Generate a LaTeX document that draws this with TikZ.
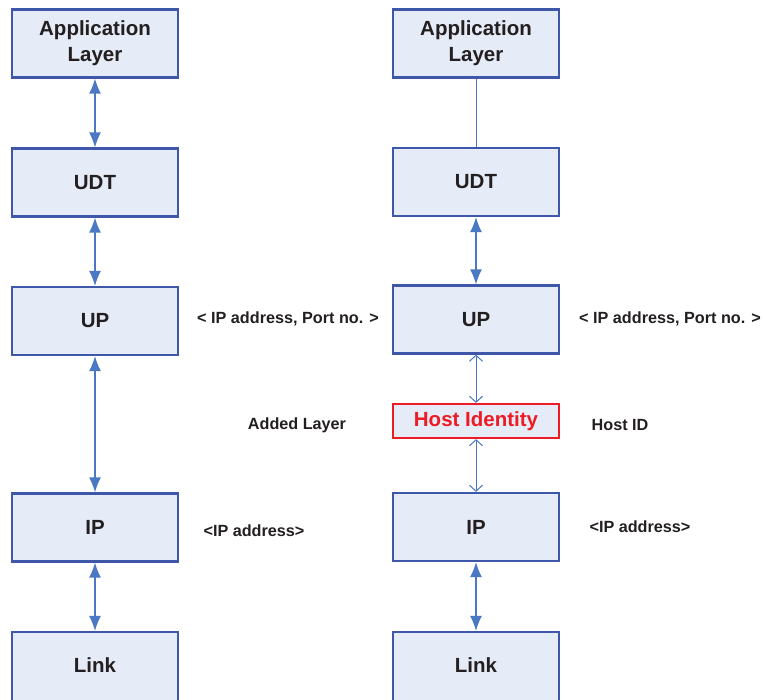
\documentclass[tikz,border=0pt]{standalone}
\usepackage{fontspec}
\setmainfont{Liberation Sans}
\usetikzlibrary{arrows.meta}
\definecolor{boxfill}{HTML}{E6ECF7}
\definecolor{boxline}{HTML}{3F57A8}
\definecolor{arrowc}{HTML}{4A78C2}
\definecolor{txt}{HTML}{231F20}
\definecolor{hired}{HTML}{ED1C24}
\tikzset{
  layer/.style={draw=boxline, fill=boxfill, line width=2.2pt, minimum width=166pt, inner sep=0pt,
    font=\fontsize{20.5}{24}\selectfont\bfseries, text=txt, align=center},
  tall/.style={minimum height=68pt},
  lbl/.style={font=\fontsize{16.2}{19}\selectfont\bfseries, text=txt, inner sep=0pt},
  biarrow/.style={arrowc, line width=1.3pt, {Latex[length=15pt,width=12pt]}-{Latex[length=15pt,width=12pt]}},
  openarrow/.style={arrowc, line width=1pt, {Straight Barb[length=6pt,width=13pt]}-{Straight Barb[length=6pt,width=13pt]}},
  plainline/.style={arrowc, line width=1pt},
}
\begin{document}
\begin{tikzpicture}[x=1pt,y=-1pt]
\useasboundingbox (0,0) rectangle (763,699);
\clip (0,0) rectangle (763,699);
% left column
\node[layer,tall] (la) at (95,43.5) {Application\\[2pt]Layer};
\node[layer,tall] (lu) at (95,182.5) {UDT};
\node[layer,tall] (lp) at (95,321) {UP};
\node[layer,tall] (li) at (95,527.5) {IP};
\node[layer,minimum height=80pt] (ll) at (95,672) {};
\node[font=\fontsize{20.5}{24}\selectfont\bfseries, text=txt] (llt) at (95,665) {Link};
% right column
\node[layer,tall] (ra) at (476,43.5) {Application\\[2pt]Layer};
\node[layer,tall] (ru) at (476,182) {UDT};
\node[layer,tall] (rp) at (476,319.5) {UP};
\node[layer,draw=hired,minimum height=34pt,text=hired] (rh) at (476,421) {Host Identity};
\node[layer,tall] (ri) at (476,527) {IP};
\node[layer,minimum height=80pt] (rl) at (476,672) {};
\node[font=\fontsize{20.5}{24}\selectfont\bfseries, text=txt] (rlt) at (476,665) {Link};
% labels
\node[lbl] (l1) at (288,319) {< IP address, Port no. >};
\node[lbl] (l2) at (670,319) {< IP address, Port no. >};
\node[lbl] (l3) at (297,425) {Added Layer};
\node[lbl] (l4) at (620,425) {Host ID};
\node[lbl] (l5) at (254,531) {<IP address>};
\node[lbl] (l6) at (640,527) {<IP address>};
% connectors left
\draw[biarrow] (la.south) -- (lu.north);
\draw[biarrow] (lu.south) -- (lp.north);
\draw[biarrow] (lp.south) -- (li.north);
\draw[biarrow] (li.south) -- (ll.north);
% connectors right
\draw[plainline] (ra.south) -- (ru.north);
\draw[biarrow] (ru.south) -- (rp.north);
\draw[openarrow] (rp.south) -- (rh.north);
\draw[openarrow] (rh.south) -- (ri.north);
\draw[biarrow] (ri.south) -- (rl.north);
\end{tikzpicture}
\end{document}
